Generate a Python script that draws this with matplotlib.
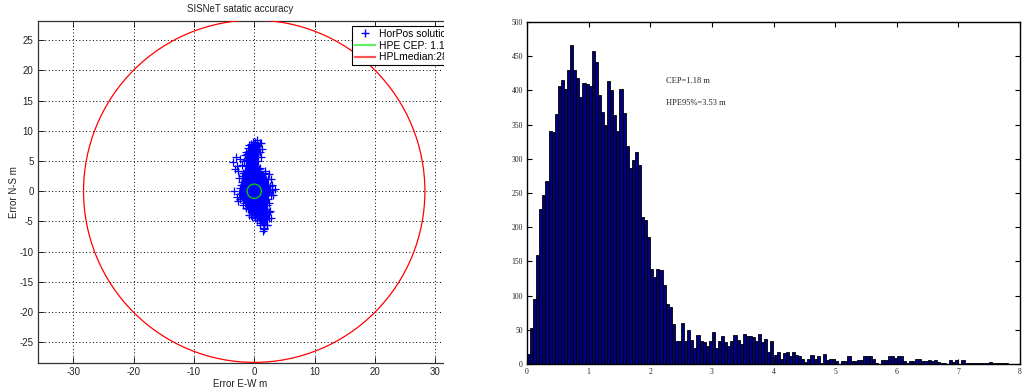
import numpy as np
import matplotlib
matplotlib.use("Agg")
import matplotlib.pyplot as plt
from matplotlib.patches import Circle, Rectangle
from matplotlib.lines import Line2D

plt.rcParams["axes.unicode_minus"] = False

# ---------------- data ----------------
title_left = "SISNeT satatic accuracy"
xlabel_left = "Error E-W m"
ylabel_left = "Error N-S m"
legend_labels = ["HorPos solution", "HPE CEP: 1.18 m", "HPLmedian:28.3 m"]
hpe_cep = 1.18
hpl_median = 28.3

# dense core of the horizontal position solutions (outline, metres)
core_x = [-0.6, 0.2, 1.0, 1.0, 0.7, 0.8, 1.8, 2.3, 2.6, 2.9, 2.7, 2.3, 2.2, 2.4,
          2.5, 2.1, 1.6, 0.9, 0.2, -0.6, -1.1, -1.6, -2.3, -2.6, -2.4, -2.1,
          -2.0, -1.6, -1.3, -1.3, -1.2, -1.0]
core_y = [7.8, 8.2, 7.9, 6.5, 5.0, 3.6, 3.0, 2.0, 0.8, 0.2, -0.6, -1.2, -2.2, -3.5,
          -4.5, -5.6, -6.0, -5.2, -4.4, -3.9, -3.0, -2.0, -1.3, -0.5, 0.5, 1.6,
          2.6, 3.4, 4.2, 5.2, 6.2, 7.2]
# individual solutions visible around the core
pts_x = [-3.0, -3.5, -2.4, -3.2, -2.7, -2.9, -2.0, -1.7, -3.3, -2.9, -2.7, -1.9,
         -1.4, -0.8, -0.3, 0.9, 1.6, 2.2, 2.8, 2.6, 2.5, 3.1, 3.4, 3.0, 2.7, 2.4,
         1.8, 1.2, 1.3, 1.1, 0.5, -0.2, -0.8, -1.3, -1.6, 0.9, -1.0, -0.3, 0.2,
         -2.2, -2.5, -1.9, 0.4, 1.5, 2.0]
pts_y = [5.7, 4.8, 5.3, 3.6, 3.3, 4.2, 4.4, 5.0, 0.1, -0.9, -1.6, -2.3, -2.8,
         -3.9, -4.3, -5.5, -6.2, -5.6, -4.4, -3.3, -1.9, -0.6, 0.3, 1.1, 2.0, 2.8,
         3.3, 5.6, 7.0, 7.9, 8.5, 8.1, 7.6, 6.5, 6.0, 3.9, 3.5, 4.0, 3.7,
         1.0, 2.2, 3.0, -4.8, -6.6, -3.0]

# histogram of horizontal error (bin width 0.05 m, 0..8 m)
hist_counts = [
    15, 53, 95, 159, 226, 247, 267, 341, 339, 366,
    407, 415, 402, 430, 467, 430, 418, 390, 411, 410,
    407, 457, 441, 394, 369, 350, 414, 400, 364, 341,
    402, 367, 319, 287, 298, 310, 291, 215, 210, 185,
    139, 127, 139, 137, 115, 88, 83, 59, 33, 33,
    60, 34, 50, 35, 24, 43, 34, 32, 27, 34,
    47, 24, 33, 41, 32, 27, 33, 42, 35, 29,
    44, 41, 41, 39, 33, 44, 32, 36, 17, 33,
    13, 17, 8, 16, 17, 11, 18, 13, 11, 8,
    3, 8, 13, 7, 11, 2, 15, 6, 8, 8,
    5, 0, 5, 5, 12, 5, 5, 6, 6, 12,
    12, 12, 8, 2, 0, 6, 6, 11, 11, 9,
    11, 12, 5, 2, 5, 5, 7, 8, 5, 5,
    6, 5, 6, 3, 2, 2, 0, 6, 3, 6,
    0, 6, 2, 2, 2, 2, 1, 1, 1, 1,
    3, 1, 1, 1, 1, 1, 0, 0, 0, 0,
]
bin_width = 0.05
cep_text = "CEP=1.18 m"
hpe95_text = "HPE95%=3.53 m"

# ---------------- figure ----------------
W, H = 1035, 390
fig = plt.figure(figsize=(W / 100, H / 100), dpi=100)

sans = "Liberation Sans"
serif = "Liberation Serif"
fs_left = 7

# ---- left panel ----
ax1 = fig.add_axes([37.7 / W, 1 - 363 / H, (443 - 37.7) / W, (363 - 20.7) / H])
ax1.set_xlim(-35.9, 31.3)
ax1.set_ylim(-28.4, 28.2)
ax1.fill(core_x, core_y, color="#0000ff", lw=0, zorder=3)
ax1.plot(pts_x, pts_y, "+", color="#0000ff", ms=5.5, mew=0.9, zorder=3)
ax1.plot(core_x, core_y, "+", color="#0000ff", ms=5.5, mew=0.9, zorder=3, ls="none")
ax1.add_patch(Circle((0, 0), hpe_cep, fill=False, edgecolor="#00dd00", lw=0.9, zorder=4))
ax1.add_patch(Circle((0, 0), hpl_median, fill=False, edgecolor="#ff0000", lw=0.9, zorder=4))
ax1.set_xticks([-30, -20, -10, 0, 10, 20, 30])
ax1.set_yticks([-25, -20, -15, -10, -5, 0, 5, 10, 15, 20, 25])
ax1.grid(True, ls=(0, (1, 2.5)), color="black", lw=0.7)
ax1.set_axisbelow(True)
ax1.tick_params(direction="in", length=4, width=0.7, labelsize=fs_left, top=True, right=False,
                colors="#222222", pad=3)
for lab in ax1.get_xticklabels() + ax1.get_yticklabels():
    lab.set_family(sans)
for s in ["left", "bottom", "top"]:
    ax1.spines[s].set_color("#333333")
    ax1.spines[s].set_linewidth(0.9)
ax1.spines["right"].set_visible(False)
ax1.set_title(title_left, fontsize=fs_left, family=sans, pad=6, color="#222222")
ax1.set_xlabel(xlabel_left, fontsize=fs_left, family=sans, labelpad=1, color="#222222")
ax1.set_ylabel(ylabel_left, fontsize=fs_left, family=sans, labelpad=0.5, color="#222222")

handles = [
    Line2D([], [], marker="+", ls="none", color="#0000ff", ms=6, mew=1),
    Line2D([], [], color="#66ee66", lw=1.6),
    Line2D([], [], color="#ff5555", lw=1.6),
]
leg = fig.legend(handles, legend_labels, loc="upper left",
                 bbox_to_anchor=(352 / W, 1 - 26 / H), bbox_transform=fig.transFigure,
                 prop={"family": sans, "size": 7.5}, frameon=True, fancybox=False,
                 edgecolor="black", framealpha=1, borderpad=0.3, labelspacing=0.15,
                 handlelength=1.9, handletextpad=0.4, borderaxespad=0)
leg.get_frame().set_linewidth(0.8)

# crop of the left panel, as in the reference
fig.add_artist(Rectangle((443.5 / W, 0), (505 - 443.5) / W, 1, transform=fig.transFigure,
                         facecolor="white", edgecolor="none", zorder=10))

# ---- right panel ----
ax2 = fig.add_axes([527 / W, 1 - 364 / H, (1020 - 527) / W, (364 - 22) / H])
left_edges = np.arange(len(hist_counts)) * bin_width
ax2.bar(left_edges, hist_counts, width=bin_width, align="edge",
        color="#000080", edgecolor="black", linewidth=0.6)
ax2.set_xlim(0, 8)
ax2.set_ylim(0, 500)
ax2.set_xticks(range(0, 9))
ax2.set_yticks(range(0, 501, 50))
ax2.tick_params(direction="in", length=3.5, width=0.8, labelsize=5.5, top=True, right=True,
                colors="black", pad=3)
for lab in ax2.get_xticklabels() + ax2.get_yticklabels():
    lab.set_family(serif)
    lab.set_color("#222222")
for s in ax2.spines.values():
    s.set_linewidth(1.0)
ax2.text(2.26, 414, cep_text, fontsize=6, family=serif, va="center", ha="left", color="#222222")
ax2.text(2.26, 382, hpe95_text, fontsize=6, family=serif, va="center", ha="left", color="#222222")

fig.savefig("out.png", dpi=100)
